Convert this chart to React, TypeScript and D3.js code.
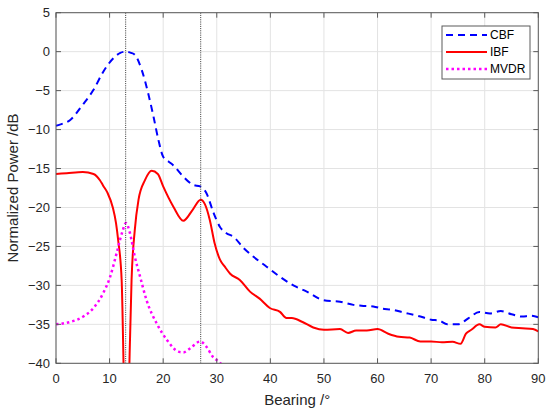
import React from 'react';
import * as d3 from 'd3';

// CBF (blue dashed)
const cbfBearing = [0, 1, 2.6, 5, 7, 8.8, 10.7, 12, 13, 14, 14.7, 16, 17.2, 18.2, 19.1, 20, 21, 21.9, 23.7, 25.6, 26.9, 28.1, 29.3, 30.6, 31.8, 33.1, 35, 36.8, 39.3, 41.8, 44.3, 46.8, 49.9, 53, 55.5, 57, 59.2, 61, 62.5, 65, 68, 70, 71.5, 73, 75, 77, 79, 81, 83, 85, 87, 88.5, 90];
const cbfPower = [-9.5, -9.3, -8.8, -6.8, -4.9, -2.6, -0.85, -0.15, 0, -0.15, -0.4, -2.35, -5.35, -8.35, -11.3, -13.5, -14.1, -14.6, -16.0, -17.1, -17.3, -18.2, -20.5, -22.5, -23.3, -23.75, -25.2, -26.3, -27.6, -28.9, -30.0, -30.8, -31.9, -32.1, -32.5, -32.6, -32.7, -33.0, -33.1, -33.5, -34.0, -34.4, -34.5, -35.0, -35.0, -34.2, -33.4, -33.6, -33.3, -33.7, -34.0, -33.9, -34.1];

// IBF (red solid)
const ibfBearing = [0, 2, 5, 7, 8.2, 8.8, 9.6, 10.6, 11.2, 11.6, 12.25, 12.6, 13.1, 13.7, 14.1, 14.7, 15.4, 16.6, 17.85, 19, 20, 21.9, 23.75, 25.5, 27, 27.8, 28.7, 29.6, 30.6, 31.5, 32.5, 34.3, 36.2, 38, 39.9, 41.8, 43, 44, 46, 48, 50, 53, 54.5, 56, 58, 60, 62, 64, 66, 68, 70, 72, 74, 75.5, 76.5, 77.5, 79, 80, 82, 83, 85, 87, 89, 90];
const ibfPower = [-15.7, -15.6, -15.45, -15.7, -16.5, -17.2, -18.1, -20.0, -22.0, -24.2, -29.3, -40, -60, -40, -29.3, -22.9, -19.0, -16.5, -15.3, -15.7, -17.3, -19.9, -21.7, -20.3, -19.0, -19.6, -21.6, -24.6, -26.7, -27.6, -28.5, -29.3, -30.8, -31.7, -32.9, -33.4, -34.2, -34.2, -34.7, -35.4, -35.7, -35.6, -36.1, -35.8, -35.8, -35.6, -36.2, -36.6, -36.7, -37.2, -37.2, -37.3, -37.25, -37.5, -36.2, -35.7, -35.0, -35.3, -35.4, -35.0, -35.4, -35.5, -35.6, -35.9];

// MVDR (magenta dotted)
const mvdrBearing = [0, 2.6, 5.1, 7, 8.8, 10.1, 11.3, 12.3, 13.06, 13.8, 14.7, 15.7, 16.9, 18.8, 20.7, 22.8, 23.75, 25, 26.9, 28.1, 29.3, 30.7, 32];
const mvdrPower = [-35, -34.7, -34.0, -32.9, -31.0, -28.9, -25.9, -23.3, -22.0, -23.3, -26.3, -28.9, -31.9, -34.9, -37.0, -38.5, -38.6, -38.1, -37.2, -37.9, -39.2, -40.0, -41.5];

const targetBearings = [13, 27];
const xTicks = [0, 10, 20, 30, 40, 50, 60, 70, 80, 90];
const yTicks = [5, 0, -5, -10, -15, -20, -25, -30, -35, -40];
const legendNames = ['CBF', 'IBF', 'MVDR'];

const W = 550;
const H = 410;
const margin = { top: 12.7, right: 11.7, bottom: 46.7, left: 56 };
const font = '"Liberation Sans", Arial, Helvetica, sans-serif';
const axisColor = '#5a5a5a';

const App: React.FC = () => {
  const x = d3.scaleLinear().domain([0, 90]).range([margin.left, W - margin.right]);
  const y = d3.scaleLinear().domain([-40, 5]).range([H - margin.bottom, margin.top]);

  const line = (bs: number[], ps: number[]) =>
    d3
      .line<number>()
      .x(i => x(bs[i]))
      .y(i => y(ps[i]))
      .curve(d3.curveMonotoneX)(d3.range(bs.length)) || '';

  const series = [
    { d: line(cbfBearing, cbfPower), color: '#0000ff', dash: '7,5', width: 2 },
    { d: line(ibfBearing, ibfPower), color: '#ff0000', dash: 'none', width: 2 },
    { d: line(mvdrBearing, mvdrPower), color: '#ff00ff', dash: '2.5,3', width: 2.5 },
  ];

  const [x0, x1] = x.range();
  const [y0, y1] = y.range();
  const fmt = (v: number) => (v < 0 ? '\u2212' + Math.abs(v) : String(v));

  const lx = 442;
  const ly = 26;

  return (
    <div style={{ position: 'absolute', left: 0, top: 0 }}>
      <svg width={W} height={H} style={{ display: 'block', background: '#fff' }}>
        <defs>
          <clipPath id="plot">
            <rect x={x0} y={y1} width={x1 - x0} height={y0 - y1} />
          </clipPath>
        </defs>
        <rect x={x0} y={y1} width={x1 - x0} height={y0 - y1} fill="#fff" />
        {/* grid */}
        {xTicks.map(t => (
          <line key={'gx' + t} x1={x(t)} x2={x(t)} y1={y1} y2={y0} stroke="#e3e3e3" strokeWidth={1} />
        ))}
        {yTicks.map(t => (
          <line key={'gy' + t} x1={x0} x2={x1} y1={y(t)} y2={y(t)} stroke="#e3e3e3" strokeWidth={1} />
        ))}
        {/* curves */}
        <g clipPath="url(#plot)">
          {series.map((s, i) => (
            <path key={i} d={s.d} fill="none" stroke={s.color} strokeWidth={s.width} strokeDasharray={s.dash} strokeLinejoin="round" />
          ))}
          {targetBearings.map(b => (
            <line key={'v' + b} x1={x(b)} x2={x(b)} y1={y1} y2={y0} stroke="#333" strokeWidth={1} strokeDasharray="1,1.2" />
          ))}
        </g>
        {/* box and ticks */}
        <rect x={x0} y={y1} width={x1 - x0} height={y0 - y1} fill="none" stroke={axisColor} strokeWidth={1} />
        {xTicks.map(t => (
          <g key={'tx' + t}>
            <line x1={x(t)} x2={x(t)} y1={y0} y2={y0 - 5} stroke={axisColor} />
            <line x1={x(t)} x2={x(t)} y1={y1} y2={y1 + 5} stroke={axisColor} />
            <text x={x(t)} y={y0 + 20} textAnchor="middle" fontFamily={font} fontSize={13} fill="#262626">
              {fmt(t)}
            </text>
          </g>
        ))}
        {yTicks.map(t => (
          <g key={'ty' + t}>
            <line x1={x0} x2={x0 + 5} y1={y(t)} y2={y(t)} stroke={axisColor} />
            <line x1={x1} x2={x1 - 5} y1={y(t)} y2={y(t)} stroke={axisColor} />
            <text x={x0 - 6} y={y(t)} dy="0.36em" textAnchor="end" fontFamily={font} fontSize={13} fill="#262626">
              {fmt(t)}
            </text>
          </g>
        ))}
        <text x={(x0 + x1) / 2} y={H - 5} textAnchor="middle" fontFamily={font} fontSize={15} fill="#262626">
          Bearing /°
        </text>
        <text transform={`translate(18,${(y0 + y1) / 2}) rotate(-90)`} textAnchor="middle" fontFamily={font} fontSize={15} fill="#262626">
          Normalized Power /dB
        </text>
        {/* legend */}
        <rect x={lx} y={ly} width={88} height={53} fill="#fff" stroke={axisColor} strokeWidth={1} />
        {series.map((s, i) => (
          <g key={'l' + i}>
            <line x1={lx + 4} x2={lx + 45} y1={ly + 9 + i * 17} y2={ly + 9 + i * 17} stroke={s.color} strokeWidth={s.width} strokeDasharray={s.dash} />
            <text x={lx + 48} y={ly + 9 + i * 17} dy="0.36em" fontFamily={font} fontSize={12} fill="#000">
              {legendNames[i]}
            </text>
          </g>
        ))}
      </svg>
    </div>
  );
};

export default App;
